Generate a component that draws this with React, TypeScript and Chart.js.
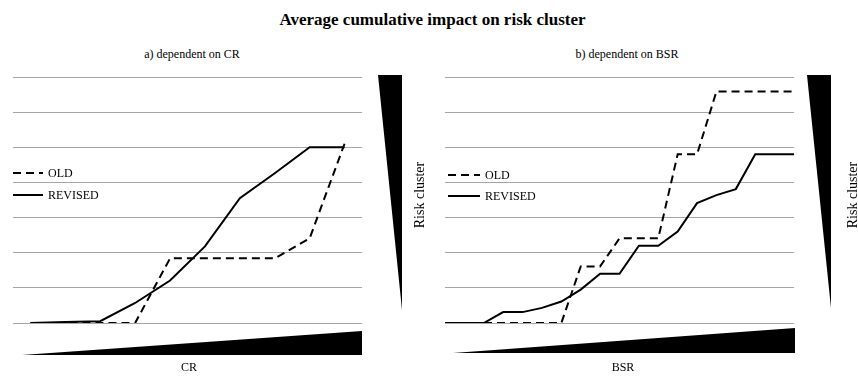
import React, { useEffect, useRef } from "react";
import { Chart, registerables } from "chart.js";
Chart.register(...registerables);

// ---- data ----
const categoriesA = ["1", "2", "3", "4", "5", "6", "7", "8", "9", "10"];
const oldA = [0, 0, 0, 0, 1.84, 1.84, 1.84, 1.84, 2.41, 5.1];
const revisedA = [0, 0.03, 0.05, 0.57, 1.21, 2.18, 3.55, 4.26, 5.0, 5.0];

const categoriesB = [
  "1", "2", "3", "4", "5", "6", "7", "8", "9", "10",
  "11", "12", "13", "14", "15", "16", "17", "18", "19",
];
const oldB = [0, 0, 0, 0, 0, 0, 0, 1.61, 1.61, 2.41, 2.41, 2.41, 4.8, 4.8, 6.59, 6.59, 6.59, 6.59, 6.59];
const revisedB = [0, 0, 0, 0.31, 0.31, 0.43, 0.61, 0.95, 1.4, 1.4, 2.2, 2.2, 2.6, 3.41, 3.64, 3.81, 4.8, 4.8, 4.8];

const yTicks = [0, 1, 2, 3, 4, 5, 6, 7];

const TITLE = "Average cumulative impact on risk cluster";
const SERIF = '"Liberation Serif", "Times New Roman", serif';

const decorPlugin = {
  id: "decor",
  afterDraw(chart: any, _args: any, o: any) {
    const { ctx, chartArea: a } = chart;
    ctx.save();
    ctx.fillStyle = "#000";
    // bottom wedge (x axis)
    ctx.beginPath();
    ctx.moveTo(a.left + o.bx0, a.bottom + o.bBot);
    ctx.lineTo(a.right + o.bx1, a.bottom + o.bTop);
    ctx.lineTo(a.right + o.bx1, a.bottom + o.bBot);
    ctx.closePath();
    ctx.fill();
    // right wedge (y axis)
    ctx.beginPath();
    ctx.moveTo(a.right + o.rx0, a.top + o.rTop);
    ctx.lineTo(a.right + o.rx1, a.top + o.rTop);
    ctx.lineTo(a.right + o.rx1, a.bottom + o.rBot);
    ctx.closePath();
    ctx.fill();
    // axis labels
    ctx.font = "12px " + SERIF;
    ctx.textAlign = "center";
    ctx.textBaseline = "middle";
    ctx.fillText(o.xLabel, o.xLabelX, a.bottom + o.xLabelDy);
    ctx.save();
    ctx.font = "14px " + SERIF;
    ctx.translate(a.right + o.yLabelDx, (a.top + a.bottom) / 2 - 5);
    ctx.rotate(-Math.PI / 2);
    ctx.fillText("Risk cluster", 0, 0);
    ctx.restore();
    // legend
    ctx.font = "12px " + SERIF;
    ctx.textAlign = "left";
    chart.data.datasets.forEach((ds: any, i: number) => {
      const y = a.top + o.legY + i * o.legGap;
      const x = a.left + o.legX;
      ctx.strokeStyle = "#000";
      ctx.lineWidth = 2;
      ctx.setLineDash(ds.borderDash || []);
      ctx.beginPath();
      ctx.moveTo(x, y);
      ctx.lineTo(x + o.legLen, y);
      ctx.stroke();
      ctx.setLineDash([]);
      ctx.fillText(ds.label, x + o.legLen + 5, y + 1);
    });
    ctx.restore();
  },
};

function makeConfig(labels: string[], oldData: number[], revData: number[], offset: boolean, padding: any, decor: any) {
  return {
    type: "line" as const,
    data: {
      labels,
      datasets: [
        {
          label: "OLD",
          data: oldData,
          borderColor: "#000",
          borderWidth: 2,
          borderDash: [8, 5],
          borderCapStyle: "butt",
          pointRadius: 0,
          tension: 0,
          fill: false,
        },
        {
          label: "REVISED",
          data: revData,
          borderColor: "#000",
          borderWidth: 2,
          pointRadius: 0,
          tension: 0,
          fill: false,
        },
      ],
    },
    options: {
      responsive: false,
      maintainAspectRatio: false,
      devicePixelRatio: 1,
      animation: false,
      layout: { padding },
      plugins: {
        legend: { display: false },
        tooltip: { enabled: false },
        title: { display: false },
        decor,
      },
      scales: {
        x: {
          display: false,
          offset,
          grid: { display: false },
        },
        y: {
          display: true,
          min: yTicks[0],
          max: yTicks[yTicks.length - 1],
          ticks: { display: false, stepSize: 1 },
          grid: { color: "#a6a6a6", lineWidth: 1, drawTicks: false, tickLength: 0 },
          border: { display: false },
        },
      },
    },
    plugins: [decorPlugin],
  };
}

function Panel(props: { left: number; width: number; config: any }) {
  const ref = useRef<HTMLCanvasElement>(null);
  useEffect(() => {
    const chart = new Chart(ref.current as HTMLCanvasElement, props.config);
    return () => chart.destroy();
  }, []);
  return (
    <canvas
      ref={ref}
      width={props.width}
      height={376}
      style={{ position: "absolute", left: props.left, top: 0, width: props.width, height: 376 }}
    />
  );
}

export default function App() {
  const cfgA = makeConfig(
    categoriesA,
    oldA,
    revisedA,
    true,
    { left: 13, right: 68, top: 77, bottom: 53 },
    {
      bx0: 9, bx1: 0, bTop: 8, bBot: 32,
      rx0: 16, rx1: 40, rTop: -2, rBot: -13,
      xLabel: "CR", xLabelX: 189, xLabelDy: 45,
      yLabelDx: 58,
      legX: 0, legY: 96, legGap: 22, legLen: 30,
    }
  );
  const cfgB = makeConfig(
    categoriesB,
    oldB,
    revisedB,
    false,
    { left: 15, right: 64, top: 77, bottom: 53 },
    {
      bx0: 8, bx1: 1, bTop: 5, bBot: 30,
      rx0: 13, rx1: 37, rTop: -2, rBot: -15,
      xLabel: "BSR", xLabelX: 193, xLabelDy: 45,
      yLabelDx: 59,
      legX: 3, legY: 98, legGap: 21, legLen: 32,
    }
  );
  return (
    <div
      style={{
        position: "fixed",
        left: 0,
        top: 0,
        width: 858,
        height: 376,
        background: "#fff",
        fontFamily: SERIF,
        color: "#000",
      }}
    >
      <div style={{ position: "absolute", left: 0, width: 865, top: 10, textAlign: "center", fontWeight: "bold", fontSize: 17 }}>
        {TITLE}
      </div>
      <div style={{ position: "absolute", left: 92, width: 200, top: 47, textAlign: "center", fontSize: 12 }}>
        a) dependent on CR
      </div>
      <div style={{ position: "absolute", left: 527, width: 200, top: 47, textAlign: "center", fontSize: 12 }}>
        b) dependent on BSR
      </div>
      <Panel left={0} width={430} config={cfgA} />
      <Panel left={430} width={428} config={cfgB} />
    </div>
  );
}
